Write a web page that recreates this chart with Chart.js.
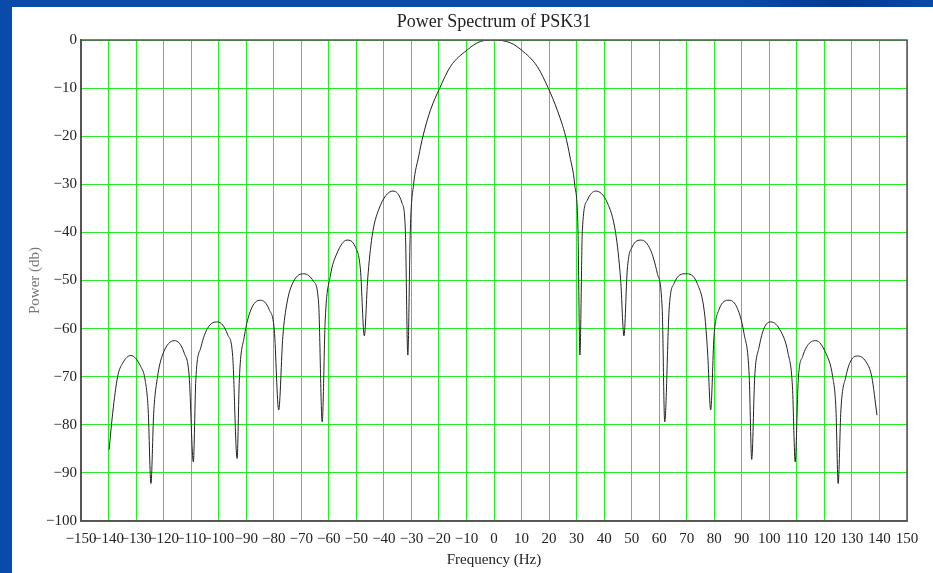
<!DOCTYPE html>
<html>
<head>
<meta charset="utf-8">
<script src="https://cdn.jsdelivr.net/npm/chart.js@4/dist/chart.umd.min.js"></script>
<style>
  html, body { margin: 0; padding: 0; }
  body {
    width: 933px; height: 573px; overflow: hidden;
    background: linear-gradient(90deg, #0a4aa8 0%, #0a4aa8 80%, #003a92 90%, #0a4aa8 100%);
    position: relative;
  }
  #wrap {
    position: absolute; left: 12px; top: 7px; width: 921px; height: 566px;
    background: #ffffff;
  }
  #wrap::before {
    content: ""; position: absolute; left: -12px; top: 0; width: 12px; height: 566px;
    background: #0a4aa8;
  }
</style>
</head>
<body>
<div id="wrap"><canvas id="c" width="921" height="566"></canvas></div>
<script>
// Data
const chartTitle = 'Power Spectrum of PSK31';
const xAxisTitle = 'Frequency (Hz)';
const yAxisTitle = 'Power (db)';

const frequencyHz = [
  -139.8, -138.5, -136.7, -134.9, -131.9, -128.3, -126.7, -125.6, -124.6,
  -123.6, -122.2, -120.4, -116.1, -112.5, -110.7, -109.2,
  -108.3, -106.4, -104.0, -100.4, -96.7, -94.9, -93.3,
  -92.5, -90.7, -88.3, -84.9, -81.6, -79.8, -78.2,
  -76.7, -75.2, -72.8, -69.1, -65.5, -63.7, -62.4,
  -61.3, -59.5, -57.0, -53.4, -50.4, -48.5, -47.1,
  -45.9, -44.3, -41.9, -36.7, -33.4, -32.2, -31.3,
  -30.4, -29.2, -27.4, -25.8, -23.1, -19.7, -15.8, -9.8, -4.9, 0,
  6.0, 10.0, 15.7, 19.7, 23.0, 26.0, 27.6, 29.3, 30.5, 31.2,
  32.1, 33.9, 36.9, 41.2, 44.2, 46.0, 47.2,
  48.4, 50.2, 53.5, 56.9, 59.3, 61.1, 62.0,
  63.6, 65.4, 69.6, 73.8, 76.5, 77.6, 78.7,
  79.9, 81.7, 85.4, 88.4, 90.8, 92.7, 93.6,
  94.7, 96.3, 98.1, 100.5, 104.2, 106.8, 108.4, 109.4,
  110.5, 112.1, 116.9, 120.5, 123.0, 124.2, 125.0,
  126.0, 127.8, 129.6, 132.1, 135.1, 137.2, 139.1
];
const powerDb = [
  -85.2, -77.6, -70.0, -67.2, -65.6, -67.9, -70.7, -76.9, -92.2,
  -77.6, -70.0, -65.5, -62.5, -65.1, -70.0, -87.7,
  -70.7, -63.8, -59.9, -58.6, -61.3, -65.8, -87.0,
  -70.7, -61.7, -56.1, -54.1, -56.1, -60.3, -76.9,
  -61.7, -54.7, -50.2, -48.6, -50.2, -54.7, -79.4,
  -58.2, -49.2, -44.3, -41.6, -43.0, -47.8, -61.5,
  -49.9, -40.9, -35.3, -31.4, -33.9, -39.5, -65.5,
  -39.5, -30.0, -24.3, -20.0, -14.6, -10.0, -5.5, -2.1, -0.3, 0,
  -0.6, -2.1, -5.5, -10.0, -14.6, -20.0, -24.3, -30.0, -39.5, -65.5,
  -39.5, -33.3, -31.4, -33.9, -40.2, -49.9, -61.5,
  -47.8, -43.0, -41.6, -43.7, -48.5, -56.1, -79.4,
  -56.1, -50.6, -48.6, -50.6, -57.0, -65.1, -76.9,
  -61.7, -56.1, -54.1, -55.8, -61.0, -70.0, -87.2,
  -70.0, -63.8, -59.9, -58.6, -60.6, -65.1, -72.1, -87.7,
  -70.7, -65.8, -62.5, -65.1, -70.0, -76.9, -92.2,
  -76.9, -70.0, -66.7, -65.7, -66.9, -70.0, -78.0
];
const xRange = [-150, 150];
const yRange = [-100, 0];
const xStep = 10;
const yStep = 10;

const points = frequencyHz.map((f, i) => ({ x: f, y: powerDb[i] }));
const minusFmt = v => String(v).replace('-', '\u2212');
const serif = '"Liberation Serif", "Times New Roman", serif';

const frameBox = {
  id: 'frameBox',
  afterDraw(chart) {
    const { ctx, chartArea: a } = chart;
    ctx.save();
    ctx.strokeStyle = '#555';
    ctx.lineWidth = 1.5;
    ctx.strokeRect(a.left, a.top, a.right - a.left, a.bottom - a.top);
    // title centred over the plot area
    ctx.fillStyle = '#222';
    ctx.font = '18px ' + serif;
    ctx.textAlign = 'center';
    ctx.textBaseline = 'middle';
    ctx.fillText(chartTitle, (a.left + a.right) / 2, 15);
    ctx.restore();
  }
};

new Chart(document.getElementById('c'), {
  type: 'line',
  data: {
    datasets: [{
      data: points,
      borderColor: '#222',
      borderWidth: 1,
      pointRadius: 0,
      fill: false,
      cubicInterpolationMode: 'monotone'
    }]
  },
  options: {
    responsive: false,
    animation: false,
    layout: { padding: { left: 0, right: 26, top: 33, bottom: 0 } },
    plugins: {
      legend: { display: false },
      tooltip: { enabled: false },
      title: { display: false }
    },
    scales: {
      x: {
        type: 'linear',
        min: xRange[0], max: xRange[1],
        afterFit: s => { s.height = 52; },
        grid: { color: '#22ee22', lineWidth: 1, drawTicks: false },
        border: { display: true, color: '#555', width: 1.5 },
        ticks: {
          stepSize: xStep, autoSkip: false, maxRotation: 0, padding: 9,
          color: '#222', font: { family: serif, size: 15 },
          callback: v => minusFmt(v)
        },
        title: {
          display: true, text: xAxisTitle, color: '#222',
          font: { family: serif, size: 15 }, padding: { top: 0, bottom: 4 }
        }
      },
      y: {
        type: 'linear',
        min: yRange[0], max: yRange[1],
        afterFit: s => { s.width = 69; },
        grid: { color: '#22ee22', lineWidth: 1, drawTicks: false },
        border: { display: true, color: '#555', width: 2 },
        ticks: {
          stepSize: yStep, padding: 4,
          color: '#222', font: { family: serif, size: 15 },
          callback: v => minusFmt(v)
        },
        title: {
          display: true, text: yAxisTitle, color: '#777',
          font: { family: serif, size: 15 }, padding: { top: 14, bottom: 0 }
        }
      }
    }
  },
  plugins: [frameBox]
});
</script>
</body>
</html>
